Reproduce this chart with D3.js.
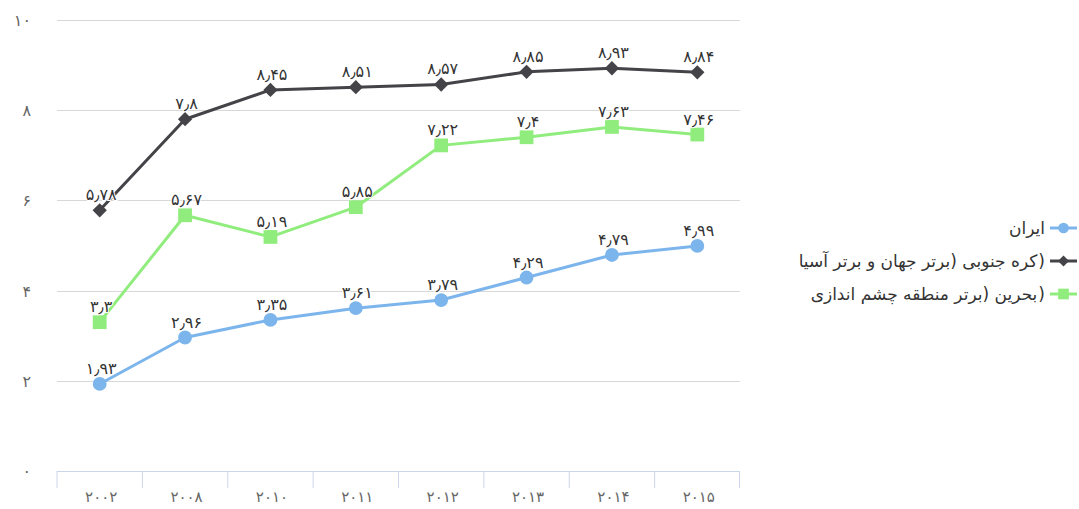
<!DOCTYPE html>
<html><head><meta charset="utf-8">
<script src="https://cdn.jsdelivr.net/npm/d3@7"></script>
<style>
html,body{margin:0;padding:0;background:#fff;}
svg{display:block;font-family:Tahoma,"DejaVu Sans",sans-serif;}
</style></head>
<body>
<svg id="chart" width="1079" height="509"></svg>
<script>
const categories = ["2002","2008","2010","2011","2012","2013","2014","2015"];
const iran = [1.93, 2.96, 3.35, 3.61, 3.79, 4.29, 4.79, 4.99];
const korea = [5.78, 7.8, 8.45, 8.51, 8.57, 8.85, 8.93, 8.84];
const bahrain = [3.3, 5.67, 5.19, 5.85, 7.22, 7.4, 7.63, 7.46];
const seriesNames = ["ایران", "کره جنوبی (برتر جهان و برتر آسیا)", "بحرین (برتر منطقه چشم اندازی)"];
const yTicks = [0, 2, 4, 6, 8, 10];

const colors = ["#7cb5ec", "#434348", "#90ed7d"];
const symbols = [d3.symbolCircle, d3.symbolDiamond2, d3.symbolSquare];
const symSizes = [150, 130, 190];

const fa = s => String(s).replace(/[0-9]/g, d => "۰۱۲۳۴۵۶۷۸۹"[+d]).replace(/\./g, "٫");

const svg = d3.select("#chart");
const pLeft = 57, pRight = 740, pTop = 20, pBottom = 471;

const x = d3.scaleBand().domain(categories).range([pLeft, pRight]);
const y = d3.scaleLinear().domain([0, 10]).range([pBottom, pTop]);

// grid
svg.append("g").selectAll("line").data(yTicks.filter(t => t > 0)).join("line")
  .attr("x1", pLeft).attr("x2", pRight)
  .attr("y1", d => Math.round(y(d)) + 0.5).attr("y2", d => Math.round(y(d)) + 0.5)
  .attr("stroke", "#d8d8d8").attr("stroke-width", 1);

// y labels
svg.append("g").selectAll("text").data(yTicks).join("text")
  .attr("x", 31).attr("y", d => y(d) + 6)
  .attr("text-anchor", "end")
  .attr("font-size", 16).attr("fill", "#666")
  .attr("letter-spacing", "3px")
  .text(d => fa(d));

// x axis
const xAxis = d3.axisBottom(x).tickSize(17).tickFormat(d => fa(d));
const gx = svg.append("g").attr("transform", `translate(0,${pBottom})`).call(xAxis);
gx.select(".domain").attr("stroke", "#ccd6eb").attr("d", `M${pLeft},0.5H${pRight}`);
gx.selectAll(".tick line").attr("stroke", "#ccd6eb")
  .attr("transform", `translate(${-x.bandwidth()/2},0)`);
gx.append("line").attr("x1", pRight - 0.5).attr("x2", pRight - 0.5).attr("y1", 0).attr("y2", 17).attr("stroke", "#ccd6eb");
gx.selectAll(".tick text").attr("font-size", 15).attr("fill", "#666")
  .attr("font-family", 'Tahoma,"DejaVu Sans",sans-serif')
  .attr("letter-spacing", "3px").attr("dx", "1.5px").attr("y", 20);

const allSeries = [iran, korea, bahrain];
const cx = c => x(c) + x.bandwidth() / 2;
const line = d3.line().x((d, i) => cx(categories[i])).y(d => y(d));

allSeries.forEach((vals, si) => {
  const g = svg.append("g");
  g.append("path").datum(vals).attr("d", line)
    .attr("fill", "none").attr("stroke", colors[si]).attr("stroke-width", 3)
    .attr("stroke-linejoin", "round").attr("stroke-linecap", "round");
  g.selectAll("path.m").data(vals).join("path").attr("class", "m")
    .attr("transform", (d, i) => `translate(${cx(categories[i])},${y(d)})`)
    .attr("d", d3.symbol().type(symbols[si]).size(symSizes[si]))
    .attr("fill", colors[si]);
});

// data labels
allSeries.forEach((vals, si) => {
  svg.append("g").selectAll("text").data(vals).join("text")
    .attr("x", (d, i) => cx(categories[i]))
    .attr("dx", "1.5px")
    .attr("y", d => y(d) - 10)
    .attr("text-anchor", "middle")
    .attr("font-size", 16).attr("fill", "#333")
    .attr("stroke", "#fff").attr("stroke-width", 2).attr("paint-order", "stroke")
    .attr("letter-spacing", "3px")
    .text(d => fa(d));
});

// legend
const leg = svg.append("g");
const legY = [228, 261, 294];
seriesNames.forEach((name, si) => {
  const g = leg.append("g").attr("transform", `translate(0,${legY[si]})`);
  g.append("line").attr("x1", 1050).attr("x2", 1077).attr("y1", 0).attr("y2", 0)
    .attr("stroke", colors[si]).attr("stroke-width", 3);
  g.append("path").attr("transform", "translate(1063.5,0)")
    .attr("d", d3.symbol().type(symbols[si]).size(symSizes[si] * 0.6))
    .attr("fill", colors[si]);
  let xEnd = 1045;
  let main = name;
  if (name.endsWith(")")) {
    main = name.slice(0, -1);
    const p = g.append("text").attr("x", xEnd).attr("y", 6)
      .attr("text-anchor", "end").attr("font-size", 17).attr("fill", "#333")
      .text(")");
    xEnd -= p.node().getComputedTextLength() + 1;
  }
  g.append("text").attr("x", xEnd).attr("y", 6)
    .attr("text-anchor", "end").attr("font-size", 17).attr("fill", "#333")
    .text(main);
});
</script>
</body></html>
